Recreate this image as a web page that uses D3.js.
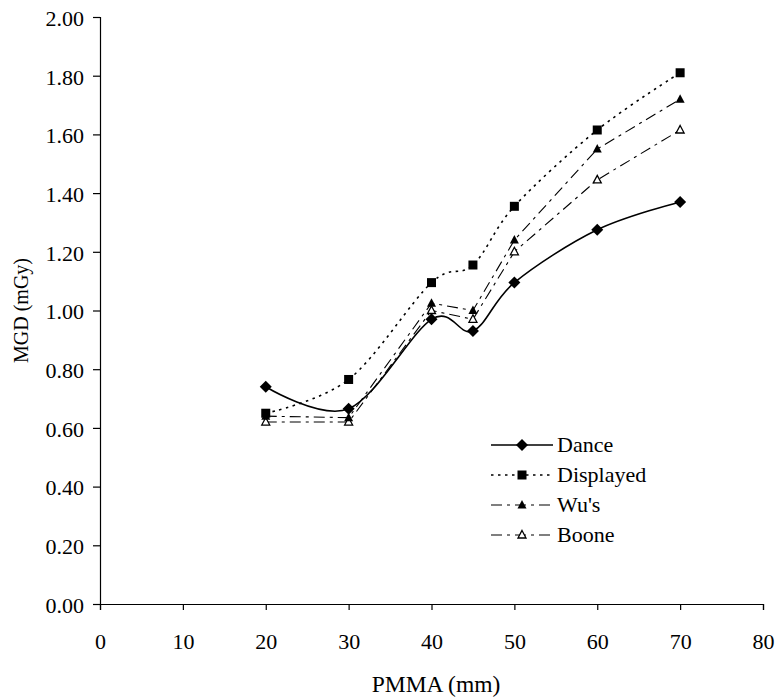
<!DOCTYPE html>
<html>
<head>
<meta charset="utf-8">
<script src="https://cdn.jsdelivr.net/npm/d3@7"></script>
<style>
  html, body { margin: 0; padding: 0; background: #fff; }
  svg { display: block; }
  text { font-family: "Times New Roman", "Liberation Serif", Times, serif; fill: #000; }
</style>
</head>
<body>
<svg id="chart" width="778" height="699"></svg>
<script>
// PMMA thickness (mm) and mean glandular dose (mGy) for each method
const thickness = [20, 30, 40, 45, 50, 60, 70];
const dance     = [0.74, 0.665, 0.97, 0.93, 1.095, 1.275, 1.37];
const displayed = [0.65, 0.765, 1.095, 1.155, 1.355, 1.615, 1.81];
const wus       = [0.64, 0.635, 1.025, 1.0, 1.24, 1.55, 1.72];
const boone     = [0.62, 0.62, 1.0, 0.97, 1.20, 1.445, 1.615];

const xTicks = [0, 10, 20, 30, 40, 50, 60, 70, 80];
const yTicks = [0, 0.2, 0.4, 0.6, 0.8, 1.0, 1.2, 1.4, 1.6, 1.8, 2.0];
const seriesNames = ["Dance", "Displayed", "Wu's", "Boone"];

const FONT = '"Times New Roman", "Liberation Serif", Times, serif';

const series = [
  { name: seriesNames[0], values: dance,     dash: null,       width: 1.6, marker: "diamond", smooth: true },
  { name: seriesNames[1], values: displayed, dash: "2.5,4.5",  width: 1.6, marker: "square",  smooth: true },
  { name: seriesNames[2], values: wus,       dash: "11,5,3,5", width: 1.1, marker: "triFill", smooth: false },
  { name: seriesNames[3], values: boone,     dash: "11,5,3,5", width: 1.1, marker: "triOpen", smooth: false }
];

const svg = d3.select("#chart");
const plotLeft = 100, plotRight = 763, plotTop = 17, plotBottom = 604;

const x = d3.scaleLinear().domain([0, 80]).range([plotLeft, plotRight]);
const y = d3.scaleLinear().domain([0, 2]).range([plotBottom, plotTop]);

// Axes
const yAxis = d3.axisLeft(y).tickValues(yTicks).tickSize(7).tickPadding(9)
  .tickFormat(d3.format(".2f"));
const xAxis = d3.axisBottom(x).tickValues(xTicks).tickSize(6).tickPadding(20)
  .tickFormat(d3.format("d"));

const gy = svg.append("g").attr("transform", `translate(${plotLeft},0)`).call(yAxis);
const gx = svg.append("g").attr("transform", `translate(0,${plotBottom})`).call(xAxis);
[gx, gy].forEach(g => {
  g.attr("font-family", FONT).attr("font-size", 22);
  g.select(".domain").attr("stroke", "#000").attr("stroke-width", 1.2);
  g.selectAll(".tick line").attr("stroke", "#000").attr("stroke-width", 1.2);
  g.selectAll(".tick text").attr("fill", "#000");
});
gy.selectAll(".tick text").attr("dy", "0.38em");
gx.selectAll(".tick text").attr("dy", null).attr("y", 45);

// Axis titles
svg.append("text")
  .attr("x", 436).attr("y", 692)
  .attr("text-anchor", "middle").attr("font-size", 23.5)
  .text("PMMA (mm)");
svg.append("text")
  .attr("transform", `translate(28,${(plotTop + plotBottom) / 2}) rotate(-90)`)
  .attr("text-anchor", "middle").attr("font-size", 20)
  .text("MGD (mGy)");

// Lines: Dance and Displayed are smoothed, Wu's and Boone are straight segments
const lineSmooth = d3.line()
  .x((d, i) => x(thickness[i]))
  .y(d => y(d))
  .curve(d3.curveCatmullRom.alpha(0));
const lineStraight = d3.line()
  .x((d, i) => x(thickness[i]))
  .y(d => y(d));

function drawMarker(g, type, cx, cy) {
  if (type === "diamond") {
    g.append("path").attr("d", `M${cx},${cy - 6}L${cx + 6},${cy}L${cx},${cy + 6}L${cx - 6},${cy}Z`)
      .attr("fill", "#000");
  } else if (type === "square") {
    g.append("rect").attr("x", cx - 4.5).attr("y", cy - 4.5).attr("width", 9).attr("height", 9)
      .attr("fill", "#000");
  } else if (type === "triFill") {
    g.append("path").attr("d", `M${cx},${cy - 5}L${cx + 4.5},${cy + 3.5}L${cx - 4.5},${cy + 3.5}Z`)
      .attr("fill", "#000");
  } else {
    g.append("path").attr("d", `M${cx},${cy - 4.5}L${cx + 4},${cy + 3}L${cx - 4},${cy + 3}Z`)
      .attr("fill", "#fff").attr("stroke", "#000").attr("stroke-width", 1.3);
  }
}

const plot = svg.append("g");
series.slice().reverse().forEach(s => {
  plot.append("path")
    .attr("d", (s.smooth ? lineSmooth : lineStraight)(s.values))
    .attr("fill", "none").attr("stroke", "#000")
    .attr("stroke-width", s.width)
    .attr("stroke-dasharray", s.dash);
  const mg = plot.append("g");
  s.values.forEach((v, i) => drawMarker(mg, s.marker, x(thickness[i]), y(v)));
});

// Legend
const legend = svg.append("g");
const lgX0 = 491, lgX1 = 553, lgY0 = 445, lgStep = 30;
series.forEach((s, i) => {
  const ly = lgY0 + i * lgStep;
  legend.append("line")
    .attr("x1", lgX0).attr("x2", lgX1).attr("y1", ly).attr("y2", ly)
    .attr("stroke", "#000").attr("stroke-width", s.width)
    .attr("stroke-dasharray", s.dash);
  drawMarker(legend, s.marker, (lgX0 + lgX1) / 2, ly);
  legend.append("text")
    .attr("x", 557).attr("y", ly + 7)
    .attr("font-size", 22)
    .text(s.name);
});
</script>
</body>
</html>
